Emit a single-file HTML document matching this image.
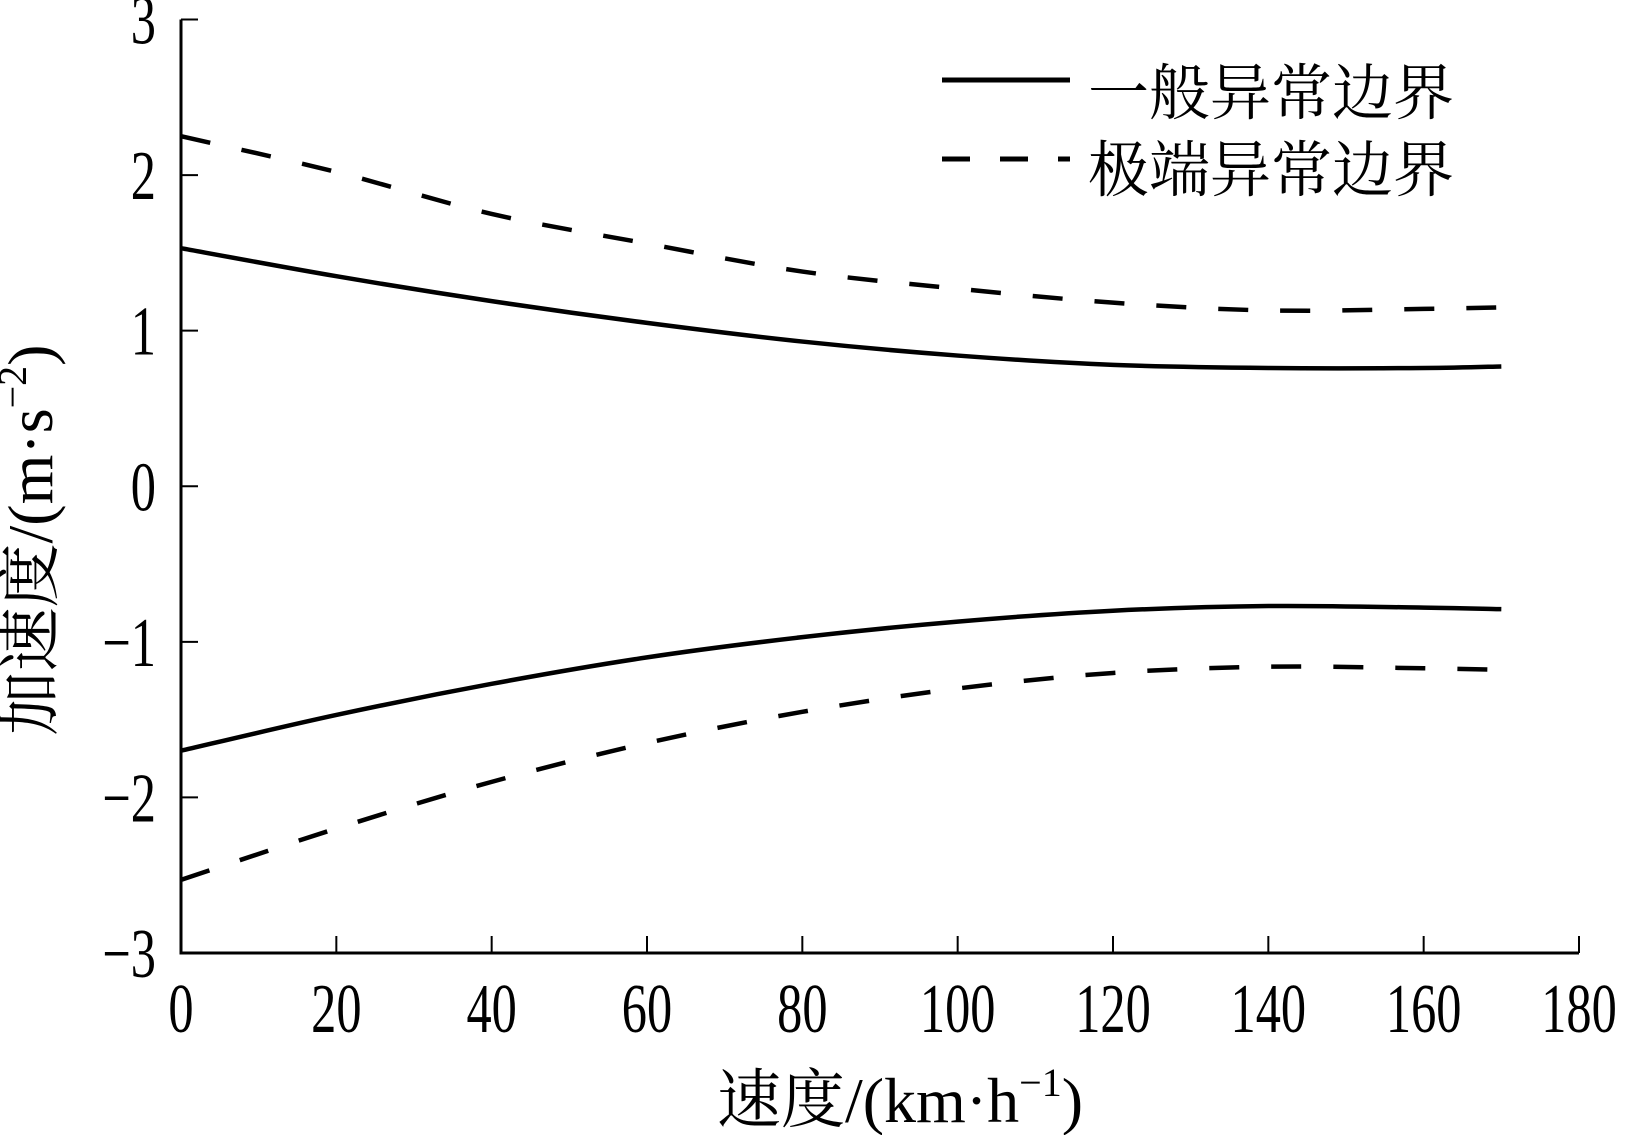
<!DOCTYPE html>
<html><head><meta charset="utf-8"><style>
html,body{margin:0;padding:0;background:#fff;}
svg{display:block;}
text{fill:#000;}
.tick{font-family:"Liberation Serif","Noto Serif CJK SC",serif;font-size:70px;}
.cjk{font-family:"Liberation Serif","Noto Serif CJK SC",serif;}
</style></head><body>
<svg id="chart" width="1630" height="1135" viewBox="0 0 1630 1135" xmlns="http://www.w3.org/2000/svg">
<g id="axes"></g>
<g id="series"></g>
<g id="legend">
  <line x1="942" y1="80" x2="1070" y2="80" stroke="#000" stroke-width="5"/>
  <text class="cjk" x="1088" y="114" font-size="61">一般异常边界</text>
  <line x1="942" y1="159" x2="1070" y2="159" stroke="#000" stroke-width="5" stroke-dasharray="28 30"/>
  <text class="cjk" x="1088" y="191" font-size="61">极端异常边界</text>
</g>
<text class="cjk" x="900" y="1122" font-size="64" text-anchor="middle">速度/(km·h<tspan dy="-26" font-size="40">−1</tspan><tspan dy="26">)</tspan></text>
<text class="cjk" transform="translate(52,540) rotate(-90)" font-size="64" text-anchor="middle">加速度/(m·s<tspan dy="-26" font-size="40">−2</tspan><tspan dy="26">)</tspan></text>
</svg>
<script>
const speeds = [0,20,40,60,80,100,120,140,160,170];
const upperGeneral = [1.53,1.35,1.19,1.05,0.93,0.84,0.78,0.76,0.76,0.77];
const upperExtreme = [2.25,2.02,1.75,1.56,1.38,1.27,1.18,1.13,1.14,1.15];
const lowerGeneral = [-1.7,-1.47,-1.27,-1.1,-0.97,-0.87,-0.8,-0.77,-0.78,-0.79];
const lowerExtreme = [-2.53,-2.2,-1.9,-1.65,-1.45,-1.3,-1.2,-1.16,-1.17,-1.18];
const xTicks = [0,20,40,60,80,100,120,140,160,180];
const yTicks = [-3,-2,-1,0,1,2,3];
const yTickLabels = ["−3","−2","−1","0","1","2","3"];

const NS="http://www.w3.org/2000/svg";
const X0=181,X1=1579,Y0=953,Y1=19.5;
const xs=v=>X0+(v-0)/(180-0)*(X1-X0);
const ys=v=>Y0-(v-(-3))/(3-(-3))*(Y0-Y1);
function mk(tag,attrs,parent){const e=document.createElementNS(NS,tag);for(const k in attrs)e.setAttribute(k,attrs[k]);parent.appendChild(e);return e;}
const axes=document.getElementById('axes');
let yl=mk('line',{x1:X0,y1:Y1,x2:X0,y2:Y0,stroke:'#000','stroke-width':3},axes);


let xl=mk('line',{x1:X0-1.5,y1:Y0,x2:X1,y2:Y0,stroke:'#000','stroke-width':3},axes);


xTicks.forEach((t)=>{
  const tk=mk('line',{x1:xs(t),y1:Y0,x2:xs(t),y2:Y0-17,stroke:'#000','stroke-width':2},axes);
  
  
  const tx=mk('text',{transform:`translate(${xs(t)},1032) scale(0.72,1)`,'text-anchor':'middle',class:'tick'},axes);
  tx.textContent=t;
  
  
});
yTicks.forEach((t,i)=>{
  const tk=mk('line',{x1:X0,y1:ys(t),x2:X0+17,y2:ys(t),stroke:'#000','stroke-width':2},axes);
  
  
  const tx=mk('text',{transform:`translate(156,${ys(t)+24}) scale(0.72,1)`,'text-anchor':'end',class:'tick'},axes);
  tx.textContent=yTickLabels[i];
  
  
});
const ser=document.getElementById('series');
function path(vals){
  const p=speeds.map((s,i)=>[xs(s),ys(vals[i])]);
  let d=`M${p[0][0]},${p[0][1]}`;
  for(let i=0;i<p.length-1;i++){
    const a=p[i-1]||p[i],b=p[i],c=p[i+1],e=p[i+2]||c;
    d+=` C${b[0]+(c[0]-a[0])/6},${b[1]+(c[1]-a[1])/6} ${c[0]-(e[0]-b[0])/6},${c[1]-(e[1]-b[1])/6} ${c[0]},${c[1]}`;
  }
  return d;
}
[[upperGeneral,'upper-general-line',null],[lowerGeneral,'lower-general-line',null],
 [upperExtreme,'upper-extreme-line','30 32'],[lowerExtreme,'lower-extreme-line','30 32']].forEach(([v,n,dash])=>{
  const a={d:path(v),fill:'none',stroke:'#000','stroke-width':4.5};
  if(dash)a['stroke-dasharray']=dash;
  const el=mk('path',a,ser);
  
  
});
</script>
</body></html>
